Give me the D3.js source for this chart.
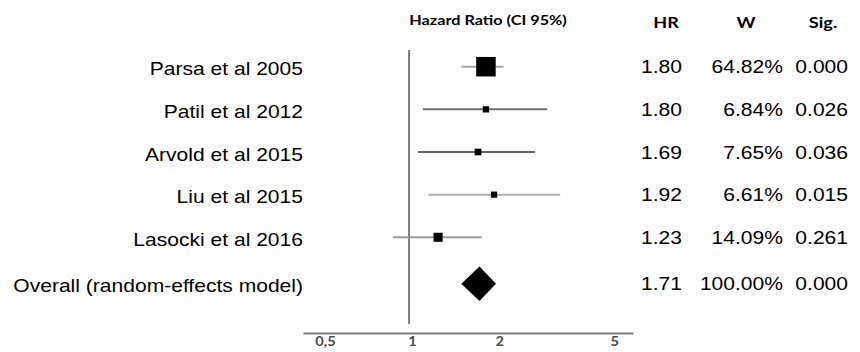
<!DOCTYPE html>
<html>
<head>
<meta charset="utf-8">
<script src="https://cdn.jsdelivr.net/npm/d3@7"></script>
<style>
  html, body { margin: 0; padding: 0; background: #fff; }
  svg { display: block; }
</style>
</head>
<body>
<svg id="chart" width="860" height="352"></svg>
<script>
// ---------- data ----------
const studies = ["Parsa et al 2005", "Patil et al 2012", "Arvold et al 2015", "Liu et al 2015", "Lasocki et al 2016"];
const hrValues = [1.80, 1.80, 1.69, 1.92, 1.23];
const ciLower = [1.48, 1.09, 1.05, 1.14, 0.86];
const ciUpper = [2.07, 2.93, 2.66, 3.25, 1.74];
const weights = [64.82, 6.84, 7.65, 6.61, 14.09];
const sigValues = ["0.000", "0.026", "0.036", "0.015", "0.261"];

const overallLabel = "Overall (random-effects model)";
const overallHR = 1.71;
const overallCI = [1.48, 1.95];
const overallWeight = 100.00;
const overallSig = "0.000";

const tickValues = [0.5, 1, 2, 5];
const tickLabels = ["0,5", "1", "2", "5"];
const columnHeaders = ["HR", "W", "Sig."];
const plotTitle = "Hazard Ratio (CI 95%)";

// ---------- styles ----------
const ciColors = ["#a4a4a4", "#6e6e6e", "#626262", "#ababab", "#9a9a9a"];
const textFont = "'Liberation Sans', Arial, sans-serif";
const headFont = "Lato, 'Open Sans', sans-serif";
const sx = 1.17; // horizontal stretch of the source text

// ---------- scales ----------
const svg = d3.select("#chart");
const x = d3.scaleLog().domain([0.42, 5.8]).range([303, 633]);
const y = d3.scalePoint().domain(studies).range([66.7, 237.3]);
const yOverall = y(studies[studies.length - 1]) + y.step() * 1.09;
const side = d3.scaleSqrt().domain([0, d3.max(weights)]).range([0, 19.5]);

const fmt2 = d3.format(".2f");

// reference line at HR = 1
svg.append("line")
  .attr("x1", x(1) - 3).attr("x2", x(1) - 3)
  .attr("y1", 50).attr("y2", 324)
  .attr("stroke", "#5e5e5e").attr("stroke-width", 1.6);

// axis
const axis = d3.axisBottom(x)
  .tickValues(tickValues)
  .tickFormat((d, i) => tickLabels[i])
  .tickSize(0)
  .tickPadding(4);
const gAxis = svg.append("g").attr("transform", "translate(0,333)").call(axis);
gAxis.attr("font-size", null).attr("font-family", null);
gAxis.select(".domain").attr("stroke", "#7a7a7a").attr("stroke-width", 2);
gAxis.selectAll("text")
  .attr("fill", "#4a4a4a")
  .style("font-family", headFont)
  .style("font-weight", "bold")
  .style("font-size", "12.5px")
  .attr("transform", `scale(${sx},1)`);

// study rows
const rows = studies.map((s, i) => ({
  name: s, hr: hrValues[i], lo: ciLower[i], hi: ciUpper[i],
  w: weights[i], sig: sigValues[i], color: ciColors[i]
}));

svg.selectAll("line.ci").data(rows).join("line")
  .attr("class", "ci")
  .attr("x1", d => x(d.lo)).attr("x2", d => x(d.hi))
  .attr("y1", d => y(d.name)).attr("y2", d => y(d.name))
  .attr("stroke", d => d.color).attr("stroke-width", 2);

svg.selectAll("rect.box").data(rows).join("rect")
  .attr("class", "box")
  .attr("x", d => x(d.hr) - side(d.w) / 2)
  .attr("y", d => y(d.name) - side(d.w) / 2)
  .attr("width", d => side(d.w))
  .attr("height", d => side(d.w))
  .attr("fill", "#000");

// overall diamond
const dx0 = x(overallCI[0]), dx1 = x(overallCI[1]), dxc = x(overallHR);
const dh = (dx1 - dx0) / 2;
svg.append("path")
  .attr("d", d3.line()([[dx0, yOverall], [dxc, yOverall - dh], [dx1, yOverall], [dxc, yOverall + dh]]) + "Z")
  .attr("fill", "#000");

// text helpers
function stretchedText(g, txt, tx, ty, anchor, opts) {
  return g.append("text")
    .attr("transform", `translate(${tx},${ty}) scale(${opts.sx || sx},1)`)
    .attr("text-anchor", anchor)
    .style("font-family", opts.font)
    .style("font-size", opts.size)
    .style("font-weight", opts.weight || "normal")
    .attr("fill", opts.fill || "#000")
    .text(txt);
}

const allRows = rows.map(d => ({ name: d.name, yy: y(d.name), hr: d.hr, w: d.w, sig: d.sig }))
  .concat([{ name: overallLabel, yy: yOverall, hr: overallHR, w: overallWeight, sig: overallSig }]);

const tOpts = { font: textFont, size: "18px" };
allRows.forEach(d => {
  stretchedText(svg, d.name, 303, d.yy + 8.5, "end", tOpts);
  stretchedText(svg, fmt2(d.hr), 682, d.yy + 6.5, "end", tOpts);
  stretchedText(svg, fmt2(d.w) + "%", 783, d.yy + 6.5, "end", tOpts);
  stretchedText(svg, d.sig, 848, d.yy + 6.5, "end", tOpts);
});

// headers
const hOpts = { font: headFont, size: "15.5px", weight: "bold" };
const headerX = [666, 746, 823];
columnHeaders.forEach((h, i) => stretchedText(svg, h, headerX[i], 27.5, "middle", hOpts));
stretchedText(svg, plotTitle, 488, 24.5, "middle", { font: headFont, size: "14px", weight: "bold", sx: 1.16 });
</script>
</body>
</html>
